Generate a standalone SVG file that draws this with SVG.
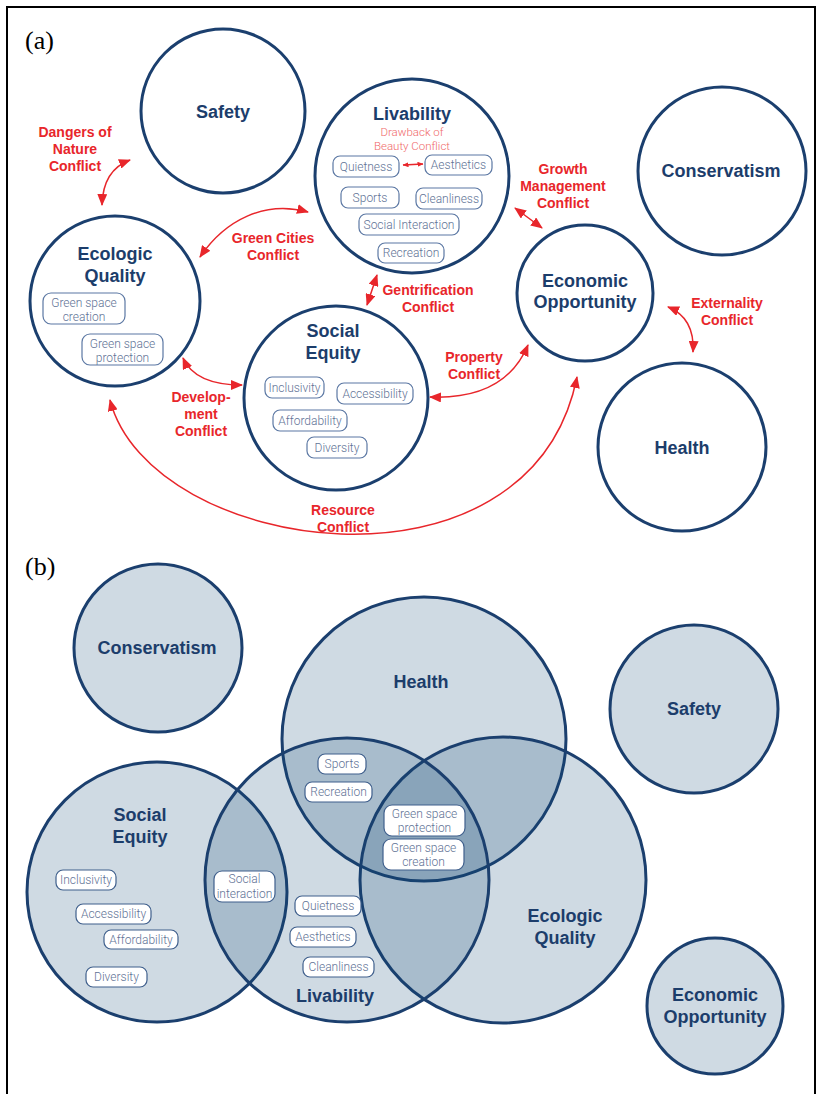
<svg xmlns="http://www.w3.org/2000/svg" width="817" height="1094" viewBox="0 0 817 1094">
<style>
.frame{fill:none;stroke:#000;stroke-width:2}
.panel{font-family:"Liberation Serif","Times New Roman",serif;font-size:26px;fill:#000}
.node{fill:#fff;stroke:#1b3f6e;stroke-width:3}
.bnode{fill:rgb(15,70,115);fill-opacity:0.2;stroke:#1b3f6e;stroke-width:3}
.title{font-family:"Liberation Sans",Arial,sans-serif;font-weight:bold;font-size:18px;fill:#1c3d6b;text-anchor:middle}
.conf{font-family:"Liberation Sans",Arial,sans-serif;font-weight:bold;font-size:14px;fill:#e8262b;text-anchor:middle}
.sub{font-family:Roboto,"Liberation Sans",sans-serif;font-weight:300;font-size:11.5px;fill:#f06a6a;text-anchor:middle}
.pill{fill:#fff;stroke:#5b77a3;stroke-width:1.2}
.ptxt{font-family:Roboto,"Liberation Sans",sans-serif;font-weight:300;font-size:12px;fill:#5f7396;text-anchor:middle}
.bpill{fill:#fff;stroke:#3f5f8c;stroke-width:1.2}
.conn{fill:none;stroke:#e8262b;stroke-width:1.5}
</style>
<defs>
<marker id="ah" viewBox="0 0 12 10" refX="11" refY="5" markerWidth="12" markerHeight="10" markerUnits="userSpaceOnUse" orient="auto-start-reverse">
<path d="M0,0 L12,5 L0,10 z" fill="#e8262b"/>
</marker>
<marker id="ahs" viewBox="0 0 12 10" refX="11" refY="5" markerWidth="6" markerHeight="5" markerUnits="userSpaceOnUse" orient="auto-start-reverse">
<path d="M0,0 L12,5 L0,10 z" fill="#e8262b"/>
</marker>
</defs>
<rect width="817" height="1094" fill="#fff"/>
<path class="frame" d="M7,1094 V7 H815 V1094"/>
<text class="panel" x="25" y="49">(a)</text>
<text class="panel" x="25" y="575">(b)</text>

<!-- Panel (a) nodes -->
<g id="a-safety">
<circle class="node" cx="223" cy="111" r="82"/>
<text class="title" x="223" y="117.5">Safety</text>
</g>
<g id="a-livability">
<circle class="node" cx="412" cy="176" r="97"/>
<text class="title" x="412" y="119.5">Livability</text>
<text class="sub" x="412" y="136">Drawback of</text>
<text class="sub" x="412" y="150">Beauty Conflict</text>
<rect class="pill" x="333" y="156" width="66" height="21" rx="7"/>
<text class="ptxt" x="366" y="170.5">Quietness</text>
<rect class="pill" x="425" y="155" width="67" height="20" rx="7"/>
<text class="ptxt" x="458.5" y="169">Aesthetics</text>
<rect class="pill" x="341" y="187" width="58" height="21" rx="7"/>
<text class="ptxt" x="370" y="201.5">Sports</text>
<rect class="pill" x="416" y="188" width="66" height="21" rx="7"/>
<text class="ptxt" x="449" y="202.5">Cleanliness</text>
<rect class="pill" x="359" y="214" width="100" height="21" rx="7"/>
<text class="ptxt" x="409" y="228.5">Social Interaction</text>
<rect class="pill" x="378" y="243" width="66" height="20" rx="7"/>
<text class="ptxt" x="411" y="257">Recreation</text>
</g>
<g id="a-conservatism">
<circle class="node" cx="722" cy="171" r="84"/>
<text class="title" x="721" y="176.5">Conservatism</text>
</g>
<g id="a-ecologic">
<circle class="node" cx="115" cy="301" r="85"/>
<text class="title" x="115" y="259.5">Ecologic</text>
<text class="title" x="115" y="281.5">Quality</text>
<rect class="pill" x="43" y="293" width="82" height="31" rx="8"/>
<text class="ptxt" x="84" y="307">Green space</text>
<text class="ptxt" x="84" y="321">creation</text>
<rect class="pill" x="82" y="334" width="81" height="31" rx="8"/>
<text class="ptxt" x="122.5" y="348">Green space</text>
<text class="ptxt" x="122.5" y="362">protection</text>
</g>
<g id="a-social-equity">
<circle class="node" cx="336" cy="398" r="92"/>
<text class="title" x="333" y="336.5">Social</text>
<text class="title" x="333" y="358.5">Equity</text>
<rect class="pill" x="265" y="377" width="59" height="21" rx="7"/>
<text class="ptxt" x="294.5" y="391.5">Inclusivity</text>
<rect class="pill" x="337" y="383" width="76" height="21" rx="7"/>
<text class="ptxt" x="375" y="397.5">Accessibility</text>
<rect class="pill" x="273" y="410" width="74" height="21" rx="7"/>
<text class="ptxt" x="310" y="424.5">Affordability</text>
<rect class="pill" x="307" y="437" width="60" height="21" rx="7"/>
<text class="ptxt" x="337" y="451.5">Diversity</text>
</g>
<g id="a-economic">
<circle class="node" cx="585" cy="293" r="68"/>
<text class="title" x="585" y="286.5">Economic</text>
<text class="title" x="585" y="307.5">Opportunity</text>
</g>
<g id="a-health">
<circle class="node" cx="682" cy="447" r="84"/>
<text class="title" x="682" y="453.5">Health</text>
</g>

<!-- Panel (a) connectors -->
<g id="a-connectors">
<path class="conn" d="M403,165 L423,164" marker-start="url(#ahs)" marker-end="url(#ahs)"/>
<path class="conn" d="M130,160 Q103,170 102,205" marker-start="url(#ah)" marker-end="url(#ah)"/>
<path class="conn" d="M200,257 C225,220 265,200 308,212" marker-start="url(#ah)" marker-end="url(#ah)"/>
<path class="conn" d="M377,275 L367,305" marker-start="url(#ah)" marker-end="url(#ah)"/>
<path class="conn" d="M515,208 L542,228" marker-start="url(#ah)" marker-end="url(#ah)"/>
<path class="conn" d="M668,307 Q695,318 693,352" marker-start="url(#ah)" marker-end="url(#ah)"/>
<path class="conn" d="M183,358 Q195,385 242,385" marker-start="url(#ah)" marker-end="url(#ah)"/>
<path class="conn" d="M430,397 Q505,400 528,345" marker-start="url(#ah)" marker-end="url(#ah)"/>
<path class="conn" d="M110,400 C150,555 530,610 577,377" marker-start="url(#ah)" marker-end="url(#ah)"/>
</g>
<g id="a-conflict-labels">
<text class="conf" x="75" y="137">Dangers of</text>
<text class="conf" x="75" y="154">Nature</text>
<text class="conf" x="75" y="171">Conflict</text>
<text class="conf" x="273" y="243">Green Cities</text>
<text class="conf" x="273" y="260">Conflict</text>
<text class="conf" x="563" y="174">Growth</text>
<text class="conf" x="563" y="191">Management</text>
<text class="conf" x="563" y="208">Conflict</text>
<text class="conf" x="428" y="295">Gentrification</text>
<text class="conf" x="428" y="312">Conflict</text>
<text class="conf" x="727" y="308">Externality</text>
<text class="conf" x="727" y="325">Conflict</text>
<text class="conf" x="474" y="362">Property</text>
<text class="conf" x="474" y="379">Conflict</text>
<text class="conf" x="201" y="402">Develop-</text>
<text class="conf" x="201" y="419">ment</text>
<text class="conf" x="201" y="436">Conflict</text>
<text class="conf" x="343" y="515">Resource</text>
<text class="conf" x="343" y="532">Conflict</text>
</g>

<!-- Panel (b) nodes -->
<g id="b-conservatism">
<circle class="bnode" cx="158" cy="648" r="84"/>
<text class="title" x="157" y="653.5">Conservatism</text>
</g>
<g id="b-safety">
<circle class="bnode" cx="694" cy="709" r="84"/>
<text class="title" x="694" y="714.5">Safety</text>
</g>
<g id="b-economic">
<circle class="bnode" cx="715" cy="1006" r="68"/>
<text class="title" x="715" y="1000.5">Economic</text>
<text class="title" x="715" y="1022.5">Opportunity</text>
</g>
<g id="b-social-equity">
<circle class="bnode" cx="157" cy="892" r="130"/>
<text class="title" x="140" y="820.5">Social</text>
<text class="title" x="140" y="842.5">Equity</text>
</g>
<g id="b-health">
<circle class="bnode" cx="424" cy="739" r="142"/>
<text class="title" x="421" y="687.5">Health</text>
</g>
<g id="b-ecologic">
<circle class="bnode" cx="503" cy="880" r="143"/>
<text class="title" x="565" y="921.5">Ecologic</text>
<text class="title" x="565" y="943.5">Quality</text>
</g>
<g id="b-livability">
<circle class="bnode" cx="347" cy="880" r="142"/>
<text class="title" x="335" y="1001.5">Livability</text>
</g>
<g id="b-attributes">
<rect class="bpill" x="56" y="870" width="60" height="20" rx="7"/>
<text class="ptxt" x="86" y="884">Inclusivity</text>
<rect class="bpill" x="76" y="904" width="75" height="20" rx="7"/>
<text class="ptxt" x="113.5" y="918">Accessibility</text>
<rect class="bpill" x="104" y="930" width="74" height="19" rx="7"/>
<text class="ptxt" x="141" y="943.5">Affordability</text>
<rect class="bpill" x="86" y="967" width="61" height="20" rx="7"/>
<text class="ptxt" x="116.5" y="981">Diversity</text>
<rect class="bpill" x="214" y="871" width="61" height="31" rx="8"/>
<text class="ptxt" x="244.5" y="883">Social</text>
<text class="ptxt" x="244.5" y="898">interaction</text>
<rect class="bpill" x="318" y="754" width="48" height="20" rx="7"/>
<text class="ptxt" x="342" y="768">Sports</text>
<rect class="bpill" x="305" y="782" width="67" height="20" rx="7"/>
<text class="ptxt" x="338.5" y="796">Recreation</text>
<rect class="bpill" x="384" y="805" width="81" height="31" rx="8"/>
<text class="ptxt" x="424.5" y="818">Green space</text>
<text class="ptxt" x="424.5" y="832">protection</text>
<rect class="bpill" x="383" y="839" width="81" height="31" rx="8"/>
<text class="ptxt" x="423.5" y="852">Green space</text>
<text class="ptxt" x="423.5" y="866">creation</text>
<rect class="bpill" x="295" y="896" width="66" height="20" rx="7"/>
<text class="ptxt" x="328" y="910">Quietness</text>
<rect class="bpill" x="290" y="927" width="66" height="20" rx="7"/>
<text class="ptxt" x="323" y="941">Aesthetics</text>
<rect class="bpill" x="303" y="957" width="71" height="20" rx="7"/>
<text class="ptxt" x="338.5" y="971">Cleanliness</text>
</g>
</svg>
